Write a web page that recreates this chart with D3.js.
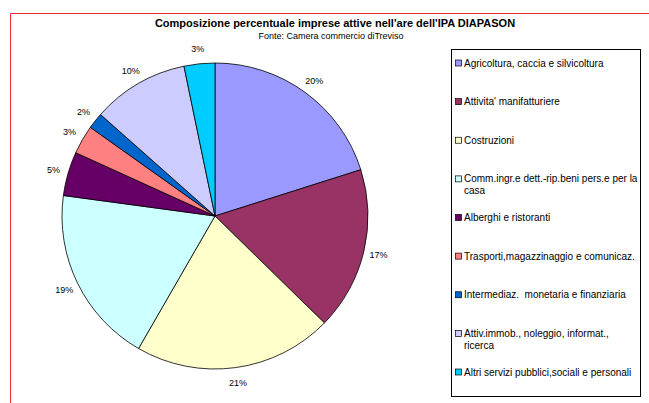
<!DOCTYPE html>
<html>
<head>
  <meta charset="utf-8">
  <script src="https://d3js.org/d3.v7.min.js"></script>
  <style>
    body { margin: 0; background: #fff; }
    text { font-family: "Liberation Sans", Arial, sans-serif; fill: #000; }
    .title { font-size: 11px; font-weight: bold; }
    .subtitle { font-size: 9px; }
    .pct { font-size: 9px; }
    .legend text { font-size: 10px; white-space: pre; }
  </style>
</head>
<body>
  <svg width="649" height="403"></svg>
  <script>
    // sectors, in drawing order (clockwise from 12 o'clock)
    const categories = [
      'Agricoltura, caccia e silvicoltura',
      "Attivita' manifatturiere",
      'Costruzioni',
      'Comm.ingr.e dett.-rip.beni pers.e per la casa',
      'Alberghi e ristoranti',
      'Trasporti,magazzinaggio e comunicaz.',
      'Intermediaz.  monetaria e finanziaria',
      'Attiv.immob., noleggio, informat., ricerca',
      'Altri servizi pubblici,sociali e personali'
    ];
    const shares = [20.1, 17.2, 21.0, 18.8, 4.65, 3.05, 1.7, 10.2, 3.25];
    const colors = ['#9999ff', '#993366', '#ffffcc', '#ccffff', '#660066',
                    '#ff8080', '#0066cc', '#ccccff', '#00ccff'];

    const svg = d3.select('svg');
    const cx = 215, cy = 216, radius = 153;

    // red frame (top + left only)
    svg.append('path')
      .attr('d', 'M10.5,403 V13.5 H649')
      .attr('fill', 'none')
      .attr('stroke', '#e83030')
      .attr('stroke-width', 1);

    svg.append('text').attr('class', 'title')
      .attr('x', 335).attr('y', 27)
      .attr('text-anchor', 'middle')
      .text("Composizione percentuale imprese attive nell'are dell'IPA DIAPASON");
    svg.append('text').attr('class', 'subtitle')
      .attr('x', 331).attr('y', 39)
      .attr('text-anchor', 'middle')
      .text('Fonte: Camera commercio diTreviso');

    const data = categories.map((c, i) => ({ name: c, value: shares[i], color: colors[i] }));

    const pie = d3.pie().sort(null).value(d => d.value);
    const arc = d3.arc().innerRadius(0).outerRadius(radius);
    const labelArc = d3.arc().innerRadius(radius + 15).outerRadius(radius + 15);

    const g = svg.append('g').attr('transform', `translate(${cx},${cy})`);
    const arcs = pie(data);

    g.selectAll('path').data(arcs)
      .enter().append('path')
      .attr('d', arc)
      .attr('fill', d => d.data.color)
      .attr('stroke', '#000')
      .attr('stroke-width', 0.8);

    g.selectAll('text').data(arcs)
      .enter().append('text')
      .attr('class', 'pct')
      .attr('transform', d => `translate(${labelArc.centroid(d)})`)
      .attr('text-anchor', 'middle')
      .attr('dy', '0.35em')
      .text(d => Math.round(d.data.value) + '%');

    // legend
    const legend = svg.append('g').attr('class', 'legend');
    legend.append('rect')
      .attr('x', 451.5).attr('y', 49.5)
      .attr('width', 189).attr('height', 347)
      .attr('fill', '#fff')
      .attr('stroke', '#000')
      .attr('stroke-width', 1);

    const legendY = d3.scalePoint()
      .domain(categories)
      .range([63, 372]);

    const item = legend.selectAll('g.item').data(data)
      .enter().append('g')
      .attr('class', 'item')
      .attr('transform', d => `translate(455,${legendY(d.name)})`);

    item.append('rect')
      .attr('x', 0.5).attr('y', -3)
      .attr('width', 6).attr('height', 6)
      .attr('fill', d => d.color)
      .attr('stroke', '#000')
      .attr('stroke-width', 0.7);

    // wrap to the legend box width (box right edge at ~640)
    const maxW = 174;
    item.each(function (d) {
      const t = d3.select(this).append('text')
        .attr('x', 9).attr('y', 0).attr('dy', '0.35em');
      const words = d.name.split(' ');
      let line = [];
      let ts = t.append('tspan').attr('x', 9);
      words.forEach(w => {
        line.push(w);
        ts.text(line.join(' '));
        if (ts.node().getComputedTextLength() > maxW && line.length > 1) {
          line.pop();
          ts.text(line.join(' '));
          line = [w];
          ts = t.append('tspan').attr('x', 9).attr('dy', '1.17em').text(w);
        }
      });
    });
  </script>
</body>
</html>
